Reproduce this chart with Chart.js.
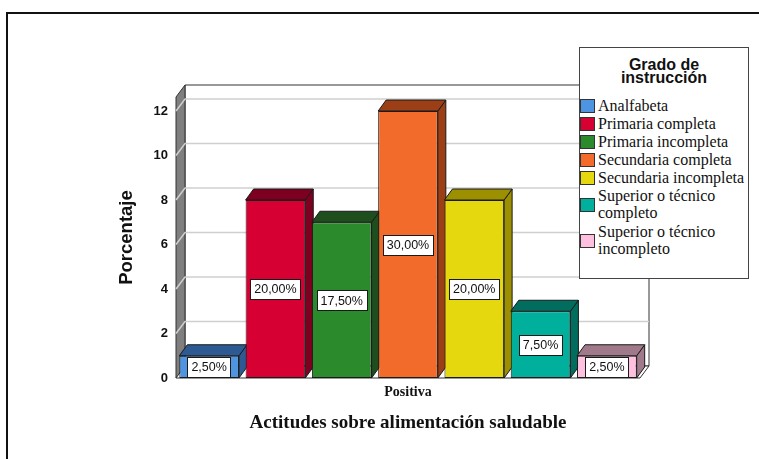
<!DOCTYPE html>
<html>
<head>
<meta charset="utf-8">
<script src="https://cdn.jsdelivr.net/npm/chart.js@4.4.0/dist/chart.umd.min.js"></script>
<style>
  html, body { margin: 0; padding: 0; background: #fff; overflow: hidden; }
  #wrap { position: relative; width: 759px; height: 459px; }
  #frame { position: absolute; left: 6px; top: 12px; width: 800px; height: 500px; border: 2px solid #111; box-sizing: border-box; }
  #chart { position: absolute; left: 0; top: 0; }
  #legend {
    position: absolute; left: 579px; top: 47px; width: 170px; height: 232px;
    box-sizing: border-box; border: 1px solid #444; background: #fff;
  }
  #legend .title {
    font: bold 16px "Liberation Sans", Arial, sans-serif; line-height: 13px;
    text-align: center; margin-top: 10px; margin-bottom: 13px; color: #111;
  }
  #legend .row { display: flex; align-items: center; }
  #legend .sw { width: 13px; height: 12px; border: 1px solid #333; margin-right: 3px; flex: none; }
  #legend .txt { font: 16px "Liberation Serif", "Times New Roman", serif; line-height: 18px; color: #111; width: 150px; }
  #legend .row.wrap .txt { line-height: 16.5px; padding: 1px 0 2px 0; }
</style>
</head>
<body>
<div id="wrap">
  <div id="frame"></div>
  <canvas id="chart" width="759" height="459"></canvas>
  <div id="legend"></div>
</div>
<script>
// ── Grado de instrucción / Actitudes ──
const categories = ['Positiva'];
const groups = ['Analfabeta', 'Primaria completa', 'Primaria incompleta', 'Secundaria completa',
  'Secundaria incompleta', 'Superior o técnico completo', 'Superior o técnico incompleto'];
const values = [1, 8, 7, 12, 8, 3, 1];
const pctLabels = ['2,50%', '20,00%', '17,50%', '30,00%', '20,00%', '7,50%', '2,50%'];
const yTicks = [0, 2, 4, 6, 8, 10, 12];

const frontColors = ['#4f94e0', '#d70032', '#2b8a2b', '#f26b2b', '#e5d80e', '#00b09c', '#ffc0e0'];
const shadeColors = ['#2e5a94', '#7d0020', '#1e4d1e', '#9c3f17', '#9c9000', '#006d5e', '#a07a8a'];

const WALL = { dx: 9, dy: -12 };
const BAR = { dx: 8, dy: -11 };
const EDGE = '#1a1a1a';

function poly(ctx, pts, fill, stroke) {
  ctx.beginPath();
  ctx.moveTo(pts[0][0], pts[0][1]);
  for (let i = 1; i < pts.length; i++) ctx.lineTo(pts[i][0], pts[i][1]);
  ctx.closePath();
  if (fill) { ctx.fillStyle = fill; ctx.fill(); }
  if (stroke) { ctx.strokeStyle = stroke; ctx.lineWidth = 1; ctx.stroke(); }
}

const box3d = {
  id: 'box3d',
  beforeDatasetsDraw(chart) {
    const { ctx, chartArea: a, scales: { y } } = chart;
    const L = a.left, R = a.right, T = a.top, B = a.bottom;
    ctx.save();
    // back wall
    poly(ctx, [[L + WALL.dx, T + WALL.dy], [R + WALL.dx, T + WALL.dy], [R + WALL.dx, B + WALL.dy], [L + WALL.dx, B + WALL.dy]], '#fff', '#333');
    // left wall
    poly(ctx, [[L, T], [L + WALL.dx, T + WALL.dy], [L + WALL.dx, B + WALL.dy], [L, B]], '#7f7f7f', '#333');
    // floor
    poly(ctx, [[L, B], [R, B], [R + WALL.dx, B + WALL.dy], [L + WALL.dx, B + WALL.dy]], '#fff', '#333');
    // grid lines
    ctx.strokeStyle = '#cfcfcf';
    ctx.lineWidth = 1.5;
    yTicks.forEach(v => {
      if (v === 0) return;
      const py = y.getPixelForValue(v);
      ctx.beginPath();
      ctx.moveTo(L, py);
      ctx.lineTo(L + WALL.dx, py + WALL.dy);
      ctx.lineTo(R + WALL.dx, py + WALL.dy);
      ctx.stroke();
    });
    // bar tops and sides
    chart.data.datasets.forEach((ds, i) => {
      const el = chart.getDatasetMeta(i).data[0];
      const { x, y: top, base, width } = el.getProps(['x', 'y', 'base', 'width'], true);
      const l = x - width / 2, r = x + width / 2;
      poly(ctx, [[r, top], [r + BAR.dx, top + BAR.dy], [r + BAR.dx, base + BAR.dy], [r, base]], shadeColors[i], EDGE);
      poly(ctx, [[l, top], [l + BAR.dx, top + BAR.dy], [r + BAR.dx, top + BAR.dy], [r, top]], shadeColors[i], EDGE);
    });
    ctx.restore();
  },
  afterDatasetsDraw(chart) {
    const { ctx } = chart;
    ctx.save();
    ctx.font = '12.5px "Liberation Sans", Arial, sans-serif';
    ctx.textAlign = 'center';
    ctx.textBaseline = 'middle';
    chart.data.datasets.forEach((ds, i) => {
      const el = chart.getDatasetMeta(i).data[0];
      const { x, y: top, base } = el.getProps(['x', 'y', 'base'], true);
      const cy = (top + base) / 2;
      const txt = pctLabels[i];
      const w = ctx.measureText(txt).width + 8, h = 20;
      ctx.fillStyle = '#fff';
      ctx.fillRect(Math.round(x - w / 2) + 0.5, Math.round(cy - h / 2) + 0.5, Math.round(w), h);
      ctx.strokeStyle = EDGE;
      ctx.lineWidth = 1;
      ctx.strokeRect(Math.round(x - w / 2) + 0.5, Math.round(cy - h / 2) + 0.5, Math.round(w), h);
      ctx.fillStyle = '#111';
      ctx.fillText(txt, x, cy + 1);
    });
    ctx.restore();
  }
};

new Chart(document.getElementById('chart').getContext('2d'), {
  type: 'bar',
  data: {
    labels: categories,
    datasets: groups.map((g, i) => ({
      label: g,
      data: [values[i]],
      backgroundColor: frontColors[i],
      borderColor: EDGE,
      borderWidth: 1,
      borderSkipped: false,
      categoryPercentage: 1,
      barPercentage: 0.9
    }))
  },
  options: {
    responsive: false,
    animation: false,
    layout: { padding: { top: 97, right: 119, left: 0, bottom: 0 } },
    plugins: { legend: { display: false }, tooltip: { enabled: false } },
    scales: {
      x: {
        grid: { display: false, drawTicks: false },
        border: { display: false },
        ticks: { color: '#111', padding: 6, font: { family: '"Liberation Serif", "Times New Roman", serif', size: 14, weight: 'bold' } },
        title: {
          display: true, text: 'Actitudes sobre alimentación saludable', color: '#111',
          font: { family: '"Liberation Serif", "Times New Roman", serif', size: 19, weight: 'bold' },
          padding: { top: 0, bottom: 25 }
        },
        afterFit: s => { s.height = 81; }
      },
      y: {
        min: 0, max: 12.63,
        grid: { display: false, drawTicks: false },
        border: { display: false },
        ticks: {
          stepSize: 2, includeBounds: false, padding: 8, color: '#111',
          font: { family: '"Liberation Sans", Arial, sans-serif', size: 13, weight: 'bold' }
        },
        title: {
          display: true, text: 'Porcentaje', color: '#111',
          font: { family: '"Liberation Sans", Arial, sans-serif', size: 18.5, weight: 'bold' },
          padding: { top: 116, bottom: 0 }
        },
        afterFit: s => { s.width = 176; }
      }
    }
  },
  plugins: [box3d]
});

// legend built from the same arrays
const lg = document.getElementById('legend');
lg.innerHTML = '<div class="title">Grado de<br>instrucción</div>' + groups.map((g, i) =>
  `<div class="row${g.length > 22 ? ' wrap' : ''}"><span class="sw" style="background:${frontColors[i]}"></span><span class="txt">${g}</span></div>`
).join('');
</script>
</body>
</html>
